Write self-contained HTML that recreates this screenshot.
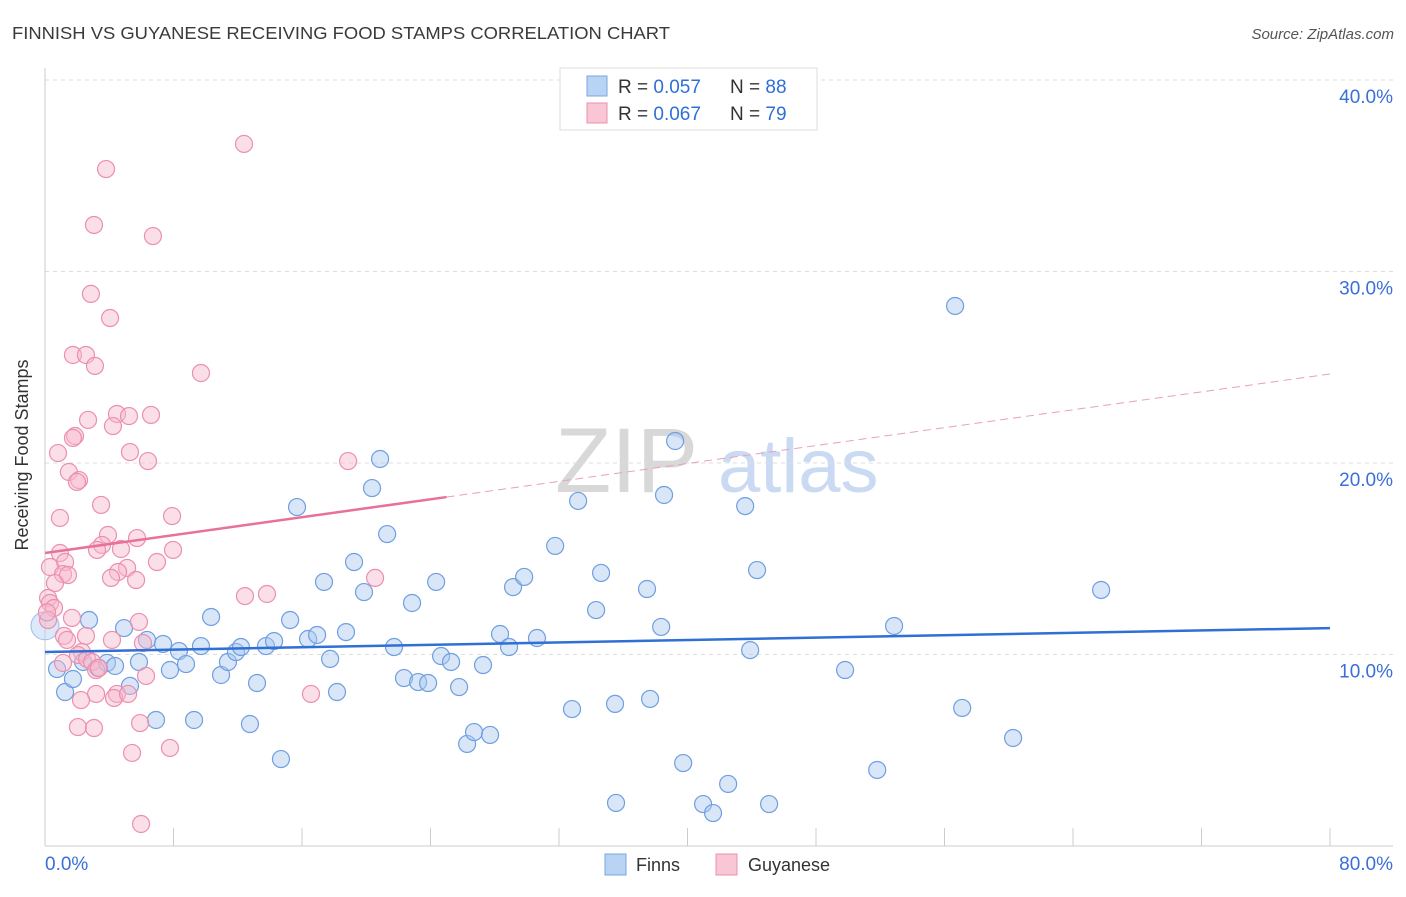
<!DOCTYPE html>
<html><head><meta charset="utf-8">
<style>
body{margin:0;background:#fff;font-family:"Liberation Sans",sans-serif;}
svg text{font-family:"Liberation Sans",sans-serif;}
</style></head>
<body>
<svg id="chart" width="1406" height="892">
<text x="12" y="39" font-size="17.5" fill="#3a3a3a" textLength="658" lengthAdjust="spacingAndGlyphs">FINNISH VS GUYANESE RECEIVING FOOD STAMPS CORRELATION CHART</text>
<text x="1394" y="39" font-size="15" fill="#555" font-style="italic" text-anchor="end">Source: ZipAtlas.com</text>
<g>
<text x="555" y="492" font-size="92" fill="#d8d8d8" font-family="Liberation Serif, serif">ZIP</text>
<text x="718" y="492" font-size="76" fill="#c9daf2">atlas</text>
</g>
<g id="grid"></g>
<g id="axes"></g>
<g id="marks"></g>
<text x="28" y="455" font-size="18" fill="#333" text-anchor="middle" transform="rotate(-90 28 455)">Receiving Food Stamps</text>
<g>
<rect x="560" y="68" width="257" height="62" fill="#fff" stroke="#ddd"/>
<rect x="587" y="76" width="20" height="20" fill="#b9d3f5" stroke="#7aa6e0"/>
<rect x="587" y="103" width="20" height="20" fill="#f9c6d6" stroke="#ee8fae"/>
<text x="618" y="93" font-size="19" fill="#333">R = <tspan fill="#2f6fd6">0.057</tspan></text>
<text x="730" y="93" font-size="19" fill="#333">N = <tspan fill="#2f6fd6">88</tspan></text>
<text x="618" y="120" font-size="19" fill="#333">R = <tspan fill="#2f6fd6">0.067</tspan></text>
<text x="730" y="120" font-size="19" fill="#333">N = <tspan fill="#2f6fd6">79</tspan></text>
</g>
<g>
<rect x="605" y="854" width="21" height="21" fill="#b9d3f5" stroke="#7aa6e0"/>
<text x="636" y="871" font-size="18" fill="#333">Finns</text>
<rect x="716" y="854" width="21" height="21" fill="#f9c6d6" stroke="#ee8fae"/>
<text x="748" y="871" font-size="18" fill="#333">Guyanese</text>
</g>
</svg>
<script>
const yTicks=[10,20,30,40];
const yTickLabels=["10.0%","20.0%","30.0%","40.0%"];
const xTicks=[0,8,16,24,32,40,48,56,64,72,80];
const xEndLabels=["0.0%","80.0%"];
const finnsX=[0.75,1.25,1.74,2.74,2.37,3.30,3.86,4.36,4.92,5.29,5.85,6.35,6.91,7.35,7.78,8.34,8.78,9.28,9.71,10.34,10.96,11.39,11.89,12.20,12.76,13.20,13.76,14.26,14.69,15.26,15.69,16.38,16.94,17.37,17.75,18.18,18.74,19.24,19.86,20.36,20.86,21.30,21.73,22.35,22.85,23.23,23.85,24.35,24.66,25.28,25.78,26.28,26.71,27.27,27.71,28.33,28.89,29.14,29.83,30.63,31.76,32.81,33.19,34.31,34.62,35.49,35.55,37.48,37.67,38.36,38.54,39.23,39.73,40.97,41.59,42.53,43.59,43.90,44.33,45.08,49.81,51.81,52.86,56.66,57.10,60.27,65.75];
const finnsY=[9.24,8.04,8.72,11.80,9.61,9.30,9.56,9.40,11.38,8.36,9.61,10.76,6.58,10.55,9.19,10.18,9.50,6.58,10.44,11.96,8.93,9.61,10.13,10.39,6.37,8.51,10.44,10.70,4.54,11.80,17.70,10.81,11.02,13.79,9.77,8.04,11.17,14.83,13.26,18.69,20.21,16.29,10.39,8.77,12.69,8.56,8.51,13.79,9.92,9.61,8.30,5.33,5.95,9.45,5.80,11.07,10.39,13.52,14.05,10.86,15.67,7.15,18.02,12.32,14.26,7.42,2.25,13.42,7.68,11.44,18.33,21.15,4.33,2.19,1.72,3.24,17.75,10.23,14.41,2.19,9.19,3.97,11.49,28.20,7.21,5.64,13.37];
const guyX=[12.39,3.80,3.05,6.72,2.86,4.05,1.74,2.55,3.11,9.71,4.48,6.60,5.23,2.68,4.23,1.87,1.74,0.81,5.29,6.41,18.87,1.49,2.12,1.99,3.49,7.91,0.93,3.92,5.73,3.55,3.24,4.73,0.93,7.97,6.97,1.25,0.31,1.12,5.11,4.55,1.43,4.11,5.67,20.55,0.62,12.45,13.82,0.19,0.31,0.56,1.68,0.19,5.85,1.18,2.55,4.17,6.10,1.37,2.30,2.05,2.62,2.93,3.18,3.36,1.12,6.29,3.18,4.48,2.24,4.30,5.17,16.56,2.05,3.05,5.92,5.42,7.78,5.98,0.12];
const guyY=[36.66,35.35,32.43,31.85,28.83,27.57,25.64,25.64,25.07,24.70,22.56,22.51,22.45,22.25,21.93,21.41,21.31,20.52,20.57,20.10,20.10,19.53,19.11,19.01,17.81,17.23,17.13,16.24,16.08,15.72,15.46,15.51,15.30,15.46,14.83,14.83,14.57,14.20,14.52,14.31,14.15,14.00,13.89,14.00,13.73,13.05,13.16,12.95,12.69,12.43,11.91,11.80,11.70,10.97,10.97,10.76,10.60,10.76,10.13,9.97,9.77,9.61,9.19,9.30,9.56,8.88,7.94,7.94,7.62,7.73,7.94,7.94,6.21,6.16,6.42,4.86,5.12,1.15,12.20];
const finnsTrend=[10.13,11.38];
const guyTrend=[15.30,24.65];
const guySolidEnd=25;

const NS="http://www.w3.org/2000/svg";
const X0=45,X1=1330,Y0=846,PY=19.15;
const xs=v=>X0+(v/80)*(X1-X0);
const ys=v=>Y0-v*PY;
function mk(tag,attrs,parent){const e=document.createElementNS(NS,tag);for(const k in attrs)e.setAttribute(k,attrs[k]);parent.appendChild(e);return e;}
const grid=document.getElementById('grid'),axes=document.getElementById('axes'),marks=document.getElementById('marks');
yTicks.forEach((t,i)=>{
 const l=mk('line',{x1:X0,x2:1393,y1:ys(t),y2:ys(t),stroke:'#ddd','stroke-dasharray':'4,4'},grid);
 
 
 const tx=mk('text',{x:1393,y:ys(t)+23,'font-size':19,fill:'#3a6fd8','text-anchor':'end'},axes);
 tx.textContent=yTickLabels[i];
 
 
});
const ax=mk('line',{x1:X0,x2:X0,y1:68,y2:Y0,stroke:'#ccc'},axes);


const bx=mk('line',{x1:X0,x2:1393,y1:Y0,y2:Y0,stroke:'#ccc'},axes);


xTicks.forEach(t=>{
 const l=mk('line',{x1:xs(t),x2:xs(t),y1:828,y2:Y0,stroke:'#ccc'},axes);
 
 
});
const xl0=mk('text',{x:45,y:870,'font-size':19,fill:'#3a6fd8'},axes);xl0.textContent=xEndLabels[0];


const xl1=mk('text',{x:1393,y:870,'font-size':19,fill:'#3a6fd8','text-anchor':'end'},axes);xl1.textContent=xEndLabels[1];



const big=mk('circle',{cx:xs(0),cy:ys(11.5),r:14,fill:'rgba(185,211,245,0.5)',stroke:'#9dbde8'},marks);


finnsX.forEach((v,i)=>{
 const c=mk('circle',{cx:xs(v),cy:ys(finnsY[i]),r:8.5,fill:'rgba(169,200,240,0.45)',stroke:'#6f9fe0','stroke-width':1.2},marks);
 
 
});
guyX.forEach((v,i)=>{
 const c=mk('circle',{cx:xs(v),cy:ys(guyY[i]),r:8.5,fill:'rgba(246,184,204,0.45)',stroke:'#ec8fae','stroke-width':1.2},marks);
 
 
});
const ft=mk('line',{x1:xs(0),y1:ys(finnsTrend[0]),x2:xs(80),y2:ys(finnsTrend[1]),stroke:'#2f6fd6','stroke-width':2.5},marks);


const gyAt=v=>guyTrend[0]+(guyTrend[1]-guyTrend[0])*v/80;
const gt=mk('line',{x1:xs(0),y1:ys(guyTrend[0]),x2:xs(guySolidEnd),y2:ys(gyAt(guySolidEnd)),stroke:'#e8709a','stroke-width':2.5},marks);


const gd=mk('line',{x1:xs(guySolidEnd),y1:ys(gyAt(guySolidEnd)),x2:xs(80),y2:ys(guyTrend[1]),stroke:'#e8a0b8','stroke-width':1,'stroke-dasharray':'8,5'},marks);


</script>
</body></html>
